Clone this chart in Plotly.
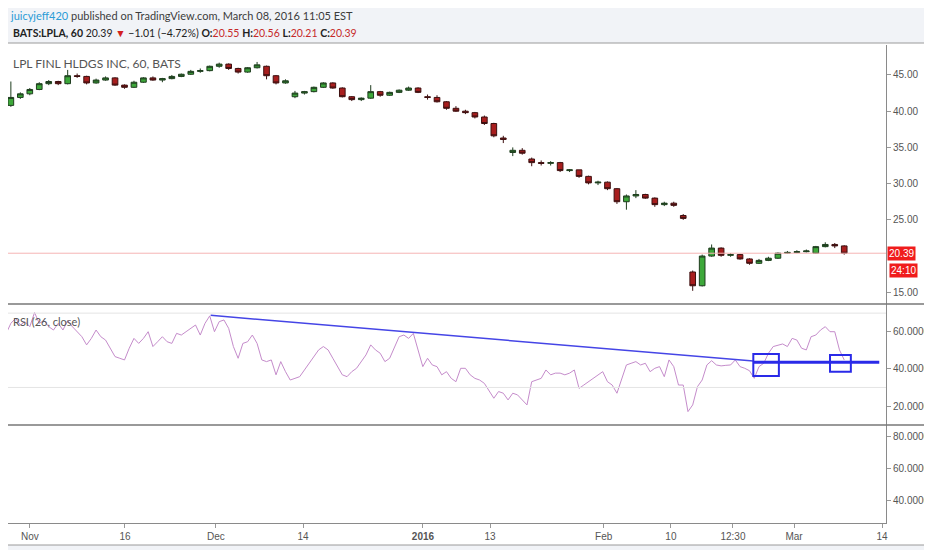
import plotly.graph_objects as go

# LPLA hourly chart, read off roughly as one candle per trading day
# x is the trading-day index, Nov 2 2015 = 0
opens = [40.8, 41.9, 42.4, 43.0, 43.8, 44.1, 43.8, 44.9, 44.8, 43.9,
         44.3, 44.6, 43.6, 43.3, 44.0, 44.6, 44.3, 44.5, 44.8, 45.1,
         45.5, 45.6, 46.2, 46.5, 45.9, 45.4, 46.0, 46.2, 44.9, 43.9,
         42.0, 42.5, 42.7, 43.3, 43.9, 43.2, 42.0, 41.6, 41.8, 42.7,
         42.2, 42.6, 42.9, 43.2, 42.0, 41.9, 41.3, 40.4, 40.0, 39.8,
         39.2, 38.3, 36.3, 34.3, 34.6, 33.4, 32.9, 32.8, 32.9, 31.8,
         31.9, 31.0, 30.1, 30.2, 29.3, 27.5, 28.3, 28.5, 28.0, 27.1,
         27.3, 25.6, 17.8, 15.9, 20.0, 21.1, 20.1, 20.2, 19.6, 19.0,
         19.4, 19.7, 20.4, 20.5, 20.6, 20.4, 21.3, 21.6, 21.4]
highs = [44.1, 42.6, 43.2, 44.0, 44.3, 44.2, 45.7, 45.2, 44.9, 44.5,
         44.8, 44.7, 43.7, 44.2, 44.7, 44.8, 44.6, 45.0, 45.2, 45.7,
         45.9, 46.3, 46.7, 46.6, 46.0, 46.1, 46.8, 46.3, 45.0, 44.4,
         42.8, 42.8, 43.4, 44.0, 44.0, 43.3, 42.1, 41.9, 43.6, 42.8,
         42.7, 43.0, 43.4, 43.3, 42.3, 42.2, 41.4, 40.7, 40.2, 39.9,
         39.4, 38.4, 36.6, 35.0, 34.9, 33.6, 33.2, 33.1, 33.0, 32.0,
         31.9, 31.1, 30.4, 30.3, 29.4, 28.5, 29.1, 28.6, 28.1, 27.5,
         27.5, 25.8, 18.0, 20.2, 21.6, 21.2, 20.4, 20.3, 19.7, 19.6,
         19.9, 20.5, 20.7, 20.8, 20.9, 21.4, 21.9, 21.8, 21.5]
lows = [40.6, 41.7, 42.2, 42.9, 43.6, 43.6, 43.7, 44.6, 43.7, 43.8,
        44.2, 43.5, 43.1, 43.2, 43.9, 44.2, 44.0, 44.4, 44.7, 45.0,
        45.3, 45.5, 46.0, 45.7, 45.2, 45.3, 45.9, 44.4, 43.7, 43.8,
        41.8, 42.3, 42.6, 43.2, 43.1, 41.9, 41.4, 41.4, 41.7, 42.0,
        42.1, 42.5, 42.8, 42.5, 41.6, 41.2, 40.2, 39.9, 39.6, 39.0,
        38.1, 36.4, 35.6, 33.8, 34.0, 32.4, 32.5, 32.5, 31.6, 31.6,
        30.8, 29.9, 29.8, 29.1, 27.2, 26.4, 28.0, 27.9, 26.8, 26.9,
        26.8, 25.0, 15.2, 15.8, 19.9, 19.9, 19.9, 19.5, 18.8, 18.9,
        19.3, 19.6, 20.3, 20.4, 20.5, 20.3, 21.2, 21.1, 20.2]
closes = [41.9, 42.4, 43.0, 43.8, 44.1, 43.8, 44.9, 44.8, 43.9, 44.3,
          44.6, 43.6, 43.3, 44.0, 44.6, 44.3, 44.5, 44.8, 45.1, 45.5,
          45.6, 46.2, 46.5, 45.9, 45.4, 46.0, 46.4, 44.9, 43.9, 44.2,
          42.5, 42.7, 43.3, 43.9, 43.2, 42.0, 41.6, 41.8, 42.7, 42.2,
          42.6, 42.9, 43.2, 42.6, 41.9, 41.3, 40.4, 40.0, 39.8, 39.2,
          38.3, 36.6, 36.1, 34.6, 34.2, 32.9, 32.8, 32.9, 31.8, 31.9,
          31.0, 30.1, 30.2, 29.3, 27.5, 28.3, 28.5, 28.0, 27.1, 27.3,
          27.0, 25.2, 15.9, 20.0, 21.1, 20.1, 20.2, 19.6, 19.0, 19.4,
          19.7, 20.4, 20.5, 20.6, 20.7, 21.3, 21.6, 21.4, 20.39]
first_day = -2

# RSI(26) sampled every half trading day, starting at day -2.5
rsi_values = [59.0, 64.5, 67.2, 63.6, 65.4, 62.7, 70.3, 64.5, 66.0, 62.7,
              60.9, 64.5, 60.9, 66.0, 62.7, 60.0, 57.3, 52.9, 56.4, 60.9,
              57.3, 55.5, 51.1, 46.6, 45.7, 44.8, 51.1, 56.4, 53.7, 56.4,
              60.0, 52.0, 54.6, 57.3, 54.6, 53.7, 59.1, 58.2, 60.0, 61.8,
              63.6, 58.2, 64.5, 68.5, 60.0, 65.4, 66.3, 61.8, 52.0, 45.7,
              53.7, 54.6, 58.2, 53.7, 44.8, 43.9, 44.8, 36.8, 43.9, 38.5,
              34.0, 34.9, 35.8, 39.4, 43.0, 46.6, 50.2, 52.0, 50.2, 45.7,
              41.2, 36.8, 35.8, 38.5, 40.3, 43.9, 47.5, 52.9, 50.2, 48.4,
              43.9, 45.7, 52.0, 57.3, 58.2, 56.4, 59.1, 50.2, 41.2, 45.7,
              42.1, 41.2, 36.8, 38.5, 34.9, 33.1, 40.3,
              40.3, 36.8, 34.9, 34.0, 32.2, 27.8, 24.2, 27.8, 26.9, 23.3,
              26.9, 26.0, 23.3, 20.6, 33.1, 34.0, 34.9, 39.4, 36.8, 37.7,
              37.7, 36.8, 37.7, 39.4, 29.5, 31.3, 33.1, 34.9, 36.8, 38.5,
              33.1, 31.3, 26.9, 34.0, 42.1, 43.0, 43.9, 42.1, 43.0, 38.5,
              40.3, 41.2, 35.8, 44.8, 41.2, 31.3, 31.3, 17.0, 20.6, 30.4,
              34.0, 42.1, 44.4, 42.1, 41.6, 41.9, 42.1, 44.8, 41.2, 40.3,
              39.0, 34.9, 41.2, 43.0, 48.4, 52.0, 52.9, 53.4, 52.0, 56.4,
              55.5, 51.1, 50.2, 57.3, 58.2, 60.9, 62.7, 60.0, 60.0, 50.2,
              44.8]
rsi_start = -2.5

tick_vals = [0, 10.05, 19.66, 28.85, 41.52, 48.6, 60.6, 67.7, 74.25, 80.7, 90]
tick_text = ["Nov", "16", "Dec", "14", "<b>2016</b>", "13", "Feb", "10", "12:30", "Mar", "14"]
# the 20.00 price tick sits under the last-price label, so it is not shown
price_ticks = [15, 25, 30, 35, 40, 45]

# user drawings on the RSI pane
trend_x = [19.1, 76.4]
trend_y = [68.8, 44.2]
level_x = [76.4, 89.7]
level_y = 43.5
boxes = [(76.4, 79.1, 36.2, 48.0), (84.5, 86.7, 38.5, 47.5)]

# the page puts the figure 8px in from the top-left, so the figure is 8px smaller
OFF = 8
W, H = 932 - OFF, 550 - OFF
L, R, T, B = 8, 886, 45, 523   # plot area in screenshot pixels


def px(x):
    return (x - L) / (R - L)


def py(y):
    return (B - y) / (B - T)


days = [first_day + i for i in range(len(closes))]
rsi_x = [rsi_start + 0.5 * i for i in range(len(rsi_values))]

fig = go.Figure()
fig.add_trace(go.Candlestick(
    x=days, open=opens, high=highs, low=lows, close=closes,
    increasing=dict(fillcolor="#3da83a", line=dict(color="#1f3d1f", width=1)),
    decreasing=dict(fillcolor="#a81e1e", line=dict(color="#3d1010", width=1)),
    whiskerwidth=0, yaxis="y", hoverinfo="skip", showlegend=False,
))
fig.add_trace(go.Scatter(
    x=rsi_x, y=rsi_values, mode="lines", yaxis="y2",
    line=dict(color="#c58ccb", width=1), hoverinfo="skip", showlegend=False,
))
fig.add_trace(go.Scatter(x=[], y=[], yaxis="y3", showlegend=False))

axis_font = dict(family="Liberation Sans, Arial, sans-serif", size=10, color="#555555")
yax = dict(side="right", showgrid=False, zeroline=False, ticks="outside", ticklen=4,
           tickcolor="#999999", tickfont=axis_font, showline=True, linecolor="#8a8a8a",
           linewidth=1, anchor="x", fixedrange=True, tickmode="array")

shapes = [
    dict(type="rect", xref="paper", yref="paper", x0=px(5), x1=px(930), y0=py(545), y1=py(43),
         fillcolor="white", line=dict(color="#9a9a9a", width=1), layer="below"),
    dict(type="line", xref="paper", yref="paper", x0=px(5), x1=px(930), y0=py(304), y1=py(304),
         line=dict(color="#777777", width=1.5)),
    dict(type="line", xref="paper", yref="paper", x0=px(5), x1=px(930), y0=py(425), y1=py(425),
         line=dict(color="#777777", width=1.5)),
    dict(type="line", xref="paper", yref="y", x0=0, x1=1, y0=closes[-1], y1=closes[-1],
         line=dict(color="#f5b4b4", width=1)),
    dict(type="line", xref="paper", yref="y2", x0=0, x1=1, y0=70, y1=70,
         line=dict(color="#e4e4e4", width=1)),
    dict(type="line", xref="paper", yref="y2", x0=0, x1=1, y0=30, y1=30,
         line=dict(color="#e4e4e4", width=1)),
    dict(type="line", xref="x", yref="y2", x0=trend_x[0], x1=trend_x[1], y0=trend_y[0], y1=trend_y[1],
         line=dict(color="#4545e6", width=1.5)),
    dict(type="line", xref="x", yref="y2", x0=level_x[0], x1=level_x[1], y0=level_y, y1=level_y,
         line=dict(color="#2a2ae8", width=3)),
]
for x0, x1, y0, y1 in boxes:
    shapes.append(dict(type="rect", xref="x", yref="y2", x0=x0, x1=x1, y0=y0, y1=y1,
                       line=dict(color="#2a2ae8", width=2), fillcolor="rgba(0,0,0,0)"))

head_font = "Lato, Liberation Sans, sans-serif"
red = "#c62a2a"
line1 = ('<span style="color:#2a9bd6">juicyjeff420</span>'
         ' published on TradingView.com, March 08, 2016 11:05 EST')
line2 = (f'<b>BATS:LPLA, 60</b> 20.39 <span style="color:#d32020">▼</span> −1.01 (−4.72%) '
         f'<b>O:</b><span style="color:{red}">20.55</span> <b>H:</b><span style="color:{red}">20.56</span> '
         f'<b>L:</b><span style="color:{red}">20.21</span> <b>C:</b><span style="color:{red}">20.39</span>')

annotations = [
    dict(text=line1, xref="paper", yref="paper", x=px(8), y=py(16), xanchor="left", yanchor="middle",
         showarrow=False, font=dict(family=head_font, size=11, color="#3c3c3c")),
    dict(text=line2, xref="paper", yref="paper", x=px(11), y=py(33), xanchor="left", yanchor="middle",
         showarrow=False, font=dict(family=head_font, size=10.5, color="#222222")),
    dict(text="LPL FINL HLDGS INC, 60, BATS", xref="paper", yref="paper", x=px(11), y=py(63),
         xanchor="left", yanchor="middle", showarrow=False,
         font=dict(family=head_font, size=12, color="#555555")),
    dict(text="RSI (26, close)", xref="paper", yref="paper", x=px(11), y=py(321),
         xanchor="left", yanchor="middle", showarrow=False,
         font=dict(family=head_font, size=11, color="#555555")),
    dict(text="20.39", xref="paper", yref="y", x=px(887), y=closes[-1], xanchor="left",
         yanchor="middle", showarrow=False, bgcolor="#f01c1c", borderpad=1,
         font=dict(family=axis_font["family"], size=10, color="white")),
    dict(text="24:10", xref="paper", yref="paper", x=px(889), y=py(270.5), xanchor="left",
         yanchor="middle", showarrow=False, bgcolor="#f01c1c", borderpad=1,
         font=dict(family=axis_font["family"], size=10, color="white")),
]

fig.update_layout(
    width=W, height=H,
    margin=dict(l=L - OFF, r=W - (R - OFF), t=T - OFF, b=H - (B - OFF)),
    paper_bgcolor="#f1f3f7", plot_bgcolor="white",
    boxgap=0.15,
    xaxis=dict(range=[(L - 29.8) / 9.47, (R - 29.8) / 9.47], tickmode="array",
               tickvals=tick_vals, ticktext=tick_text,
               showgrid=False, zeroline=False, ticks="outside", ticklen=4, tickcolor="#999999",
               tickfont=axis_font, showline=True, linecolor="#8a8a8a", linewidth=1,
               anchor="y3", rangeslider=dict(visible=False), fixedrange=True),
    yaxis=dict(domain=[py(304), 1], range=[13.38, 49.14], tickvals=price_ticks,
               tickformat=".2f", **yax),
    yaxis2=dict(domain=[py(425), py(304)], range=[9.8, 74.9], tickvals=[20, 40, 60],
                tickformat=".4f", **yax),
    yaxis3=dict(domain=[0, py(425)], range=[26.3, 87.3], tickvals=[40, 60, 80],
                tickformat=".4f", **yax),
    shapes=shapes,
    annotations=annotations,
)

fig.write_html("out.html")
